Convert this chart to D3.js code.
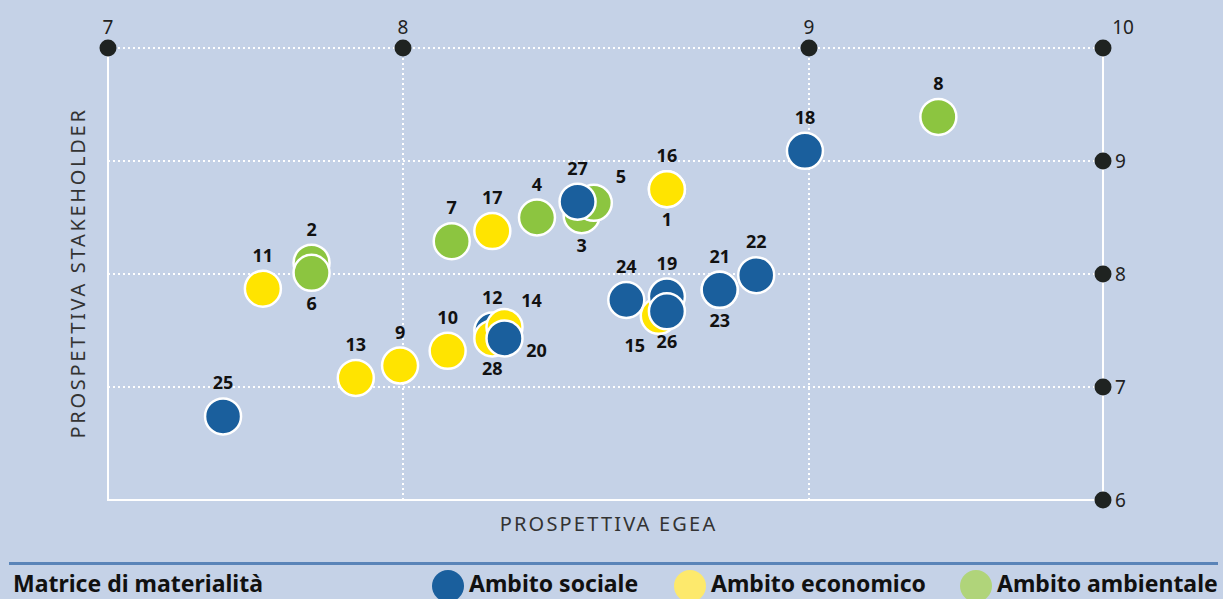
<!DOCTYPE html>
<html>
<head>
<meta charset="utf-8">
<script src="https://cdn.jsdelivr.net/npm/d3@7"></script>
<style>
  body { margin: 0; background: #c5d2e7; }
  svg { display: block; }
  .lbl { font-family: "Noto Sans", sans-serif; font-weight: 700; font-size: 18px; fill: #111; }
  .tick { font-family: "Noto Sans", sans-serif; font-size: 19px; fill: #222; }
  .axis-title { font-family: "Noto Sans", sans-serif; font-size: 20px; fill: #333; letter-spacing: 2.2px; }
  .legend { font-family: "Noto Sans", sans-serif; font-weight: 700; font-size: 23px; fill: #111; }
</style>
</head>
<body>
<div id="chart"></div>
<script>
// chart data
var xTicks = [7, 8, 9, 10];
var yTicks = [6, 7, 8, 9];
var ids    = [25, 11, 2, 6, 13, 9, 10, 7, 17, 12, 28, 14, 20, 4, 3, 5, 27, 16, 1, 24, 15, 19, 26, 21, 23, 22, 18, 8];
var egea   = [7.39, 7.525, 7.69, 7.69, 7.84, 7.99, 8.11, 8.12, 8.22, 8.22, 8.22, 8.25, 8.25, 8.33, 8.44, 8.47, 8.43, 8.65, 8.65, 8.55, 8.63, 8.65, 8.65, 8.78, 8.78, 8.87, 8.99, 9.44];
var stake  = [6.74, 7.87, 8.10, 8.01, 7.08, 7.19, 7.32, 8.29, 8.38, 7.50, 7.43, 7.53, 7.43, 8.50, 8.52, 8.63, 8.64, 8.75, 8.75, 7.77, 7.63, 7.80, 7.67, 7.86, 7.86, 7.99, 9.09, 9.39];
var ambito = ["s", "e", "a", "a", "e", "e", "e", "a", "e", "s", "e", "e", "s", "a", "a", "a", "s", "e", "e", "s", "e", "s", "s", "s", "s", "s", "s", "a"];
var legendNames = ["Ambito sociale", "Ambito economico", "Ambito ambientale"];
var legendTitle = "Matrice di materialità";

// where each number sits around its circle
var labelSide = {25: "a", 11: "a", 2: "a", 6: "b", 13: "a", 9: "a", 10: "a", 7: "a", 17: "a",
  12: "a", 28: "b", 14: "ar", 20: "br", 4: "a", 3: "b", 5: "ar", 27: "a", 16: "a", 1: "b",
  24: "a", 15: "bl", 19: "a", 26: "b", 21: "a", 23: "b", 22: "a", 18: "a", 8: "a"};

var colors = {s: "#1a5f9d", e: "#ffe400", a: "#8cc540"};
var legendColors = {s: "#1a5f9d", e: "#fde96c", a: "#b0d47a"};

var svgWidth = 1223;
var svgHeight = 599;

var svg = d3.select("#chart").append("svg")
    .attr("width", svgWidth)
    .attr("height", svgHeight);

var points = ids.map((id, i) => ({id: id, x: egea[i], y: stake[i], k: ambito[i]}));

// x axis is stretched in the middle band
var x = d3.scaleLinear().domain(xTicks).range([108, 403, 809, 1103]);
var y = d3.scaleLinear().domain([6, 10]).range([500, 48]);

var g = svg.append("g");

// dotted grid
var dots = "2,3";
g.selectAll(".vgrid").data([8, 9])
  .enter().append("line")
    .attr("x1", d => x(d)).attr("x2", d => x(d))
    .attr("y1", y(10)).attr("y2", y(6))
    .attr("stroke", "#fff").attr("stroke-width", 2).attr("stroke-dasharray", dots);

g.selectAll(".hgrid").data([7, 8, 9, 10])
  .enter().append("line")
    .attr("x1", x(7)).attr("x2", x(10))
    .attr("y1", d => y(d)).attr("y2", d => y(d))
    .attr("stroke", "#fff").attr("stroke-width", 2).attr("stroke-dasharray", dots);

// solid frame: left, right, bottom
g.append("path")
    .attr("d", `M${x(7)},${y(10)}V${y(6)}H${x(10)}V${y(10)}`)
    .attr("fill", "none").attr("stroke", "#fff").attr("stroke-width", 2);

// tick dots along top and right
g.selectAll(".xdot").data(xTicks)
  .enter().append("circle")
    .attr("cx", d => x(d)).attr("cy", y(10)).attr("r", 8.5).attr("fill", "#1f2321");
g.selectAll(".xtick").data(xTicks)
  .enter().append("text")
    .attr("class", "tick")
    .attr("x", d => x(d) + (d === 10 ? 20 : 0)).attr("y", y(10) - 14)
    .attr("text-anchor", "middle")
    .text(d => d);

g.selectAll(".ydot").data(yTicks)
  .enter().append("circle")
    .attr("cx", x(10)).attr("cy", d => y(d)).attr("r", 8.5).attr("fill", "#1f2321");
g.selectAll(".ytick").data(yTicks)
  .enter().append("text")
    .attr("class", "tick")
    .attr("x", x(10) + 12).attr("y", d => y(d) + 7)
    .text(d => d);

// axis titles
g.append("text")
    .attr("class", "axis-title")
    .attr("x", (x(7) + x(10)) / 2 + 3).attr("y", 531)
    .attr("text-anchor", "middle")
    .text("PROSPETTIVA EGEA");

g.append("text")
    .attr("class", "axis-title")
    .attr("transform", `translate(85, ${(y(6) + y(10)) / 2 - 1}) rotate(-90)`)
    .attr("text-anchor", "middle")
    .style("letter-spacing", "2.7px")
    .text("PROSPETTIVA STAKEHOLDER");

// bubbles
var r = 18;
g.selectAll(".bubble").data(points)
  .enter().append("circle")
    .attr("cx", d => x(d.x)).attr("cy", d => y(d.y)).attr("r", r)
    .attr("fill", d => colors[d.k])
    .attr("stroke", "#fff").attr("stroke-width", 2.5);

// numbers
var off = {
  a:  [0, -r - 9],
  b:  [0, r + 19],
  ar: [27, -r - 2],
  br: [32, r + 1],
  bl: [-24, r + 18]
};
g.selectAll(".lbl").data(points)
  .enter().append("text")
    .attr("class", "lbl")
    .attr("x", d => x(d.x) + off[labelSide[d.id]][0])
    .attr("y", d => y(d.y) + off[labelSide[d.id]][1])
    .attr("text-anchor", "middle")
    .text(d => d.id);

// legend strip
svg.append("line")
    .attr("x1", 9).attr("x2", 1218).attr("y1", 563.5).attr("y2", 563.5)
    .attr("stroke", "#5a84b8").attr("stroke-width", 3);

svg.append("text")
    .attr("class", "legend")
    .attr("x", 13).attr("y", 592)
    .text(legendTitle);

var legendX = [448, 690, 976];
var legendKeys = ["s", "e", "a"];
var lg = svg.selectAll(".leg").data(legendKeys)
  .enter().append("g")
    .attr("transform", (d, i) => `translate(${legendX[i]}, 586)`);
lg.append("circle").attr("r", 16).attr("fill", d => legendColors[d]);
lg.append("text")
    .attr("class", "legend")
    .attr("x", 21).attr("y", 6)
    .text((d, i) => legendNames[i]);
</script>
</body>
</html>
